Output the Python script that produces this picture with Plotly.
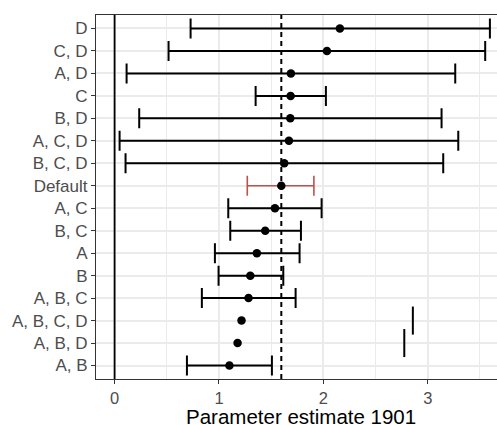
import plotly.graph_objects as go

# Categories from top to bottom
categories = ["D", "C, D", "A, D", "C", "B, D", "A, C, D", "B, C, D", "Default",
              "A, C", "B, C", "A", "B", "A, B, C", "A, B, C, D", "A, B, D", "A, B"]
estimate = [2.158, 2.034, 1.689, 1.686, 1.683, 1.670, 1.625, 1.597,
            1.536, 1.443, 1.363, 1.300, 1.283, 1.216, 1.178, 1.100]
lower = [0.728, 0.517, 0.115, 1.351, 0.236, 0.048, 0.105, 1.271,
         1.089, 1.108, 0.961, 0.996, 0.836, None, None, 0.693]
upper = [3.595, 3.550, 3.263, 2.024, 3.132, 3.292, 3.148, 1.909,
         1.983, 1.785, 1.772, 1.616, 1.734, 2.857, 2.775, 1.507]
default_label = "Default"
default_estimate = 1.597
x_ticks = [0, 1, 2, 3]
x_title = "Parameter estimate 1901"

fig = go.Figure()

# reference vertical lines
fig.add_vline(x=0, line=dict(color="black", width=1.8), layer="above")
fig.add_vline(x=default_estimate, line=dict(color="black", width=2, dash="5px,4px"), layer="above")

full = [i for i, c in enumerate(categories) if lower[i] is not None]
black_idx = [i for i in full if categories[i] != default_label]
red_idx = [i for i in full if categories[i] == default_label]

def add_err(idx, color, width):
    fig.add_trace(go.Scatter(
        x=[estimate[i] for i in idx],
        y=[categories[i] for i in idx],
        mode="markers",
        marker=dict(size=0.1, color=color, opacity=0),
        error_x=dict(type="data", symmetric=False,
                     array=[upper[i] - estimate[i] for i in idx],
                     arrayminus=[estimate[i] - lower[i] for i in idx],
                     color=color, thickness=width, width=10),
        showlegend=False, hoverinfo="skip"))

add_err(black_idx, "black", 2)
add_err(red_idx, "#C0504D", 1.6)

# upper caps only for rows missing a lower bound
cap_idx = [i for i, c in enumerate(categories) if lower[i] is None]
fig.add_trace(go.Scatter(
    x=[upper[i] for i in cap_idx],
    y=[categories[i] for i in cap_idx],
    mode="markers",
    marker=dict(symbol="line-ns", size=20, line=dict(color="black", width=2)),
    showlegend=False, hoverinfo="skip"))

# points
fig.add_trace(go.Scatter(
    x=estimate, y=categories, mode="markers",
    marker=dict(size=8.5, color="black"),
    showlegend=False))

fig.update_layout(
    width=497, height=425,
    margin=dict(l=96, r=0, t=15, b=46),
    paper_bgcolor="white", plot_bgcolor="white",
    font=dict(family="Liberation Sans, Arial, sans-serif"),
    annotations=[dict(text=x_title, xref="paper", yref="paper", x=0.511, y=0,
                      xanchor="center", yanchor="top", yshift=-24, showarrow=False,
                      font=dict(size=20.5, color="black"))],
)
fig.update_xaxes(
    automargin=False,
    range=[-0.178, 3.663], tickvals=x_ticks, ticktext=[str(t) for t in x_ticks],
    showgrid=True, gridcolor="#EBEBEB", gridwidth=1.5,
    minor=dict(dtick=0.5, tick0=0.5, showgrid=True, gridcolor="#EBEBEB", gridwidth=0.8),
    showline=True, mirror=True, linecolor="#333333", linewidth=1.2,
    ticks="outside", ticklen=4, tickwidth=1.2, tickcolor="#333333",
    tickfont=dict(size=16.5, color="#4D4D4D"),
    zeroline=False,
)
fig.update_yaxes(
    automargin=False,
    type="category", categoryorder="array", categoryarray=categories[::-1],
    range=[-0.6, len(categories) - 0.4],
    showgrid=True, gridcolor="#EBEBEB", gridwidth=1.5,
    showline=True, mirror=False, linecolor="#333333", linewidth=1.2,
    ticks="outside", ticklen=4, tickwidth=1.2, tickcolor="#333333",
    tickfont=dict(size=17, color="#4D4D4D"),
    zeroline=False,
)
fig.write_html("out.html",
               config={"displayModeBar": False},
               post_script="document.body.style.margin='0';document.body.style.overflow='hidden';")
